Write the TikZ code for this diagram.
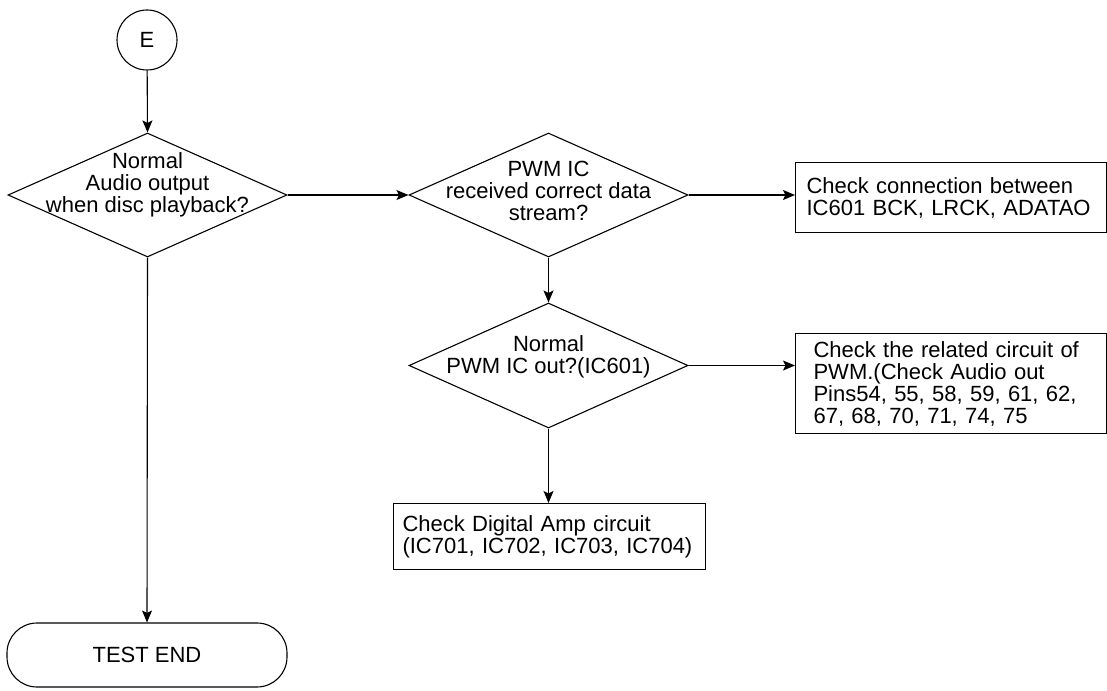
\documentclass[tikz,border=0pt]{standalone}
\usepackage{fontspec}
\setmainfont{Liberation Sans}
\usetikzlibrary{shapes.geometric,arrows.meta}

\begin{document}
\begin{tikzpicture}[
    x=1pt, y=1pt,
    flowline/.style={draw=black, line width=1.1pt},
    flowarrow/.style={draw=black, line width=1.1pt, -{Stealth[length=12pt,width=10pt,inset=2.5pt]}},
    flowtext/.style={font=\fontsize{22}{22}\selectfont, align=center},
    decision/.style={diamond, draw=black, line width=1.1pt, inner sep=0pt, minimum width=279pt, minimum height=124pt},
    checkbox/.style={rectangle, draw=black, line width=1.1pt, anchor=north west, align=left, inner ysep=0pt, font=\fontsize{22}{22}\selectfont}
]
  \useasboundingbox (0,0) rectangle (1107,-690);

  \node[circle, draw=black, line width=1.1pt, inner sep=0pt, minimum size=60pt, flowtext] (start) at (147,-40) {E};

  \node[decision, label={[flowtext, yshift=10pt]center:{Normal\\Audio output\\when disc playback?}}] (qaudio) at (147.5,-195) {};
  \node[decision, label={[flowtext, yshift=4pt]center:{PWM IC\\received correct data\\stream?}}] (qstream) at (548.5,-195) {};
  \node[decision, minimum height=125pt, label={[flowtext, yshift=9pt]center:{Normal\\PWM IC out?(IC601)}}] (qpwm) at (548.5,-365.5) {};

  \node[checkbox, minimum width=311pt, minimum height=70pt, inner xsep=11pt, text width=289pt] (chkconn) at (795,-162) {Check connection between\\IC601 BCK, LRCK, ADATAO};
  \node[checkbox, minimum width=311pt, minimum height=100pt, inner xsep=18pt, text width=275pt] (chkpins) at (795,-333) {Check the related circuit of\\PWM.(Check Audio out\\Pins54, 55, 58, 59, 61, 62,\\67, 68, 70, 71, 74, 75};
  \node[checkbox, minimum width=312pt, minimum height=66pt, inner xsep=9pt, text width=294pt] (chkamp) at (393,-503) {Check Digital Amp circuit\\(IC701, IC702, IC703, IC704)};

  \node[rectangle, draw=black, line width=1.1pt, rounded corners=30pt, minimum width=280pt, minimum height=64pt, flowtext] (finish) at (147,-655) {TEST END};

  \draw[flowarrow] (start) -- (qaudio.north);
  \draw[flowarrow] (qaudio.east) -- (qstream.west);
  \draw[flowarrow] (qstream.east) -- (qstream.east -| chkconn.west);
  \draw[flowarrow] (qstream.south) -- (qpwm.north);
  \draw[flowarrow] (qpwm.east) -- (qpwm.east -| chkpins.west);
  \draw[flowarrow] (qpwm.south) -- (chkamp.north -| qpwm.south);
  \draw[flowarrow] (qaudio.south) -- (finish.north);
\end{tikzpicture}
\end{document}
